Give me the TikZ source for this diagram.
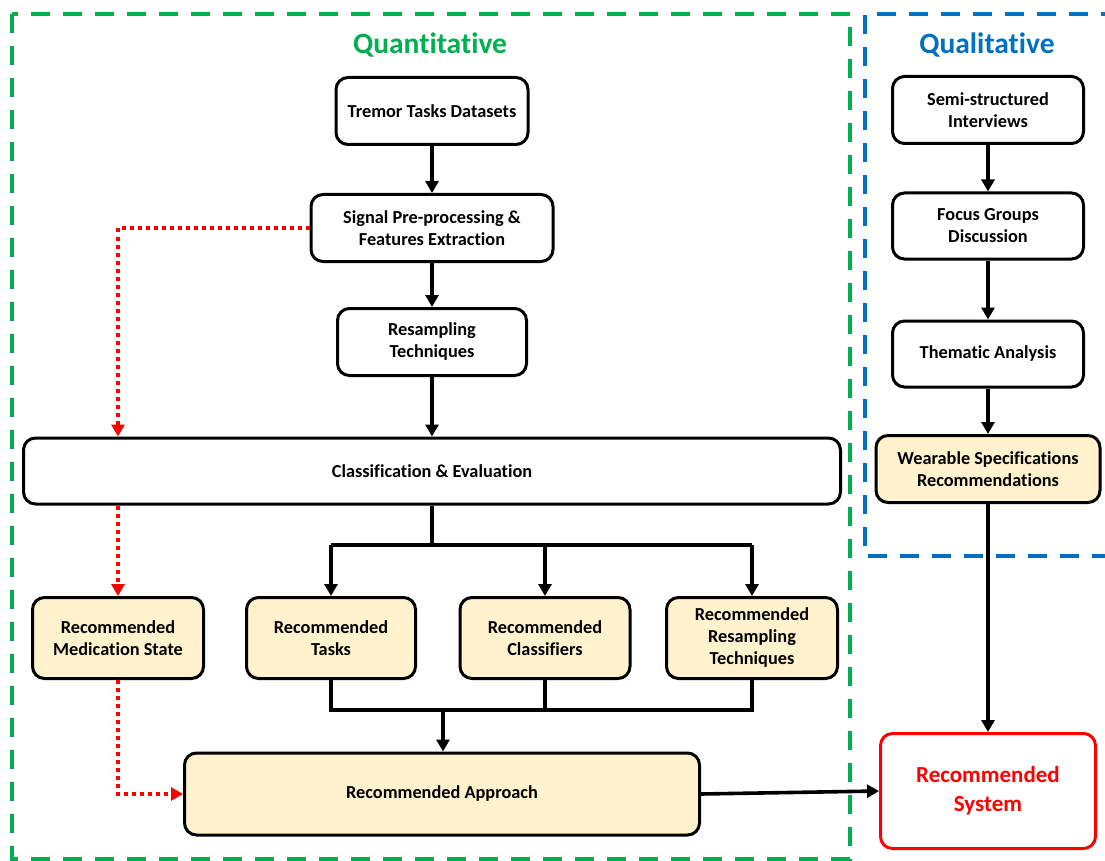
\documentclass[tikz,border=0pt]{standalone}
\usepackage{fontspec}
\setmainfont{Carlito}[Ligatures=NoCommon]
\usetikzlibrary{arrows.meta}
\definecolor{recfill}{RGB}{255,242,204}
\definecolor{qgreen}{RGB}{0,176,80}
\definecolor{qblue}{RGB}{0,112,192}
\tikzset{
  box/.style={draw=black, line width=3pt, rounded corners=12pt, fill=white, align=center,
    font=\bfseries\fontsize{18.3}{22}\selectfont, inner sep=0pt},
  rec/.style={box, fill=recfill},
  conn/.style={draw=black, line width=3.6pt},
  arr/.style={conn, -{Triangle[length=12pt,width=13pt]}},
  reddot/.style={draw=red, line width=4pt, dash pattern=on 4pt off 4pt, -{Triangle[length=12pt,width=13pt]}},
  frame/.style={line width=4pt, dash pattern=on 19pt off 13pt},
  title/.style={font=\bfseries\fontsize{29.5}{32}\selectfont}
}
\begin{document}
\begin{tikzpicture}[x=1pt,y=-1pt]
\clip (0,0) rectangle (1105,861);
\fill[white] (0,0) rectangle (1105,861);
% frames
\draw[frame, qgreen] (12,14) rectangle (850,859);
\draw[frame, qblue] (1120,14) -- (865,14) -- (865,556) -- (1120,556);
\node[title, text=qgreen] (tquant) at (430,45) {Quantitative};
\node[title, text=qblue] (tqual) at (987,45) {Qualitative};
% quantitative nodes
\node[box, minimum width=192, minimum height=67] (ttd) at (432,111) {Tremor Tasks Datasets};
\node[box, minimum width=242, minimum height=67] (sig) at (432,228) {Signal Pre-processing \&\\Features Extraction};
\node[box, minimum width=189, minimum height=67] (rs) at (432,342) {Resampling\\Techniques};
\node[box, minimum width=817, minimum height=66] (cls) at (432,471) {Classification \& Evaluation};
\node[rec, minimum width=171, minimum height=81] (med) at (118,638) {Recommended\\Medication State};
\node[rec, minimum width=169, minimum height=81] (tasks) at (331,638) {Recommended\\Tasks};
\node[rec, minimum width=170, minimum height=81] (clf) at (545,638) {Recommended\\Classifiers};
\node[rec, minimum width=171, minimum height=81] (rrt) at (752,638) {Recommended\\Resampling\\Techniques};
\node[rec, minimum width=515, minimum height=82] (app) at (442,794) {Recommended Approach};
% qualitative nodes
\node[box, minimum width=191, minimum height=67] (ssi) at (988,110) {Semi-structured\\Interviews};
\node[box, minimum width=191, minimum height=66] (fgd) at (988,226) {Focus Groups\\Discussion};
\node[box, minimum width=191, minimum height=66] (tha) at (988,354) {Thematic Analysis};
\node[rec, minimum width=224, minimum height=67] (wsr) at (988,469) {Wearable Specifications\\Recommendations};
\node[box, draw=red, text=red, minimum width=215, minimum height=115, font=\bfseries\fontsize{23}{29}\selectfont] (sys) at (988,791) {Recommended\\System};
% coordinates
\coordinate (split) at (432,545);
\coordinate (join) at (443,710);
% quantitative connectors
\draw[arr] (ttd) -- (sig);
\draw[arr] (sig) -- (rs);
\draw[arr] (rs) -- (cls);
\draw[conn] (cls.south -| split) -- (split);
\draw[conn] (tasks.north |- split) -- (rrt.north |- split);
\draw[arr] (tasks.north |- split) -- (tasks.north);
\draw[arr] (clf.north |- split) -- (clf.north);
\draw[arr] (rrt.north |- split) -- (rrt.north);
\draw[conn] (tasks.south) -- (tasks.south |- join) -- (rrt.south |- join) -- (rrt.south);
\draw[conn] (clf.south) -- (clf.south |- join);
\draw[arr] (join) -- (app.north -| join);
% red dotted
\draw[reddot] (sig.west) -| (med.north |- cls.north);
\draw[reddot] (med.north |- cls.south) -- (med.north);
\draw[reddot] (med.south) |- (app.west);
% qualitative connectors
\draw[arr] (ssi) -- (fgd);
\draw[arr] (fgd) -- (tha);
\draw[arr] (tha) -- (wsr);
\draw[arr] (wsr) -- (sys);
\draw[arr] (app.east) -- (sys.west);
\end{tikzpicture}
\end{document}
